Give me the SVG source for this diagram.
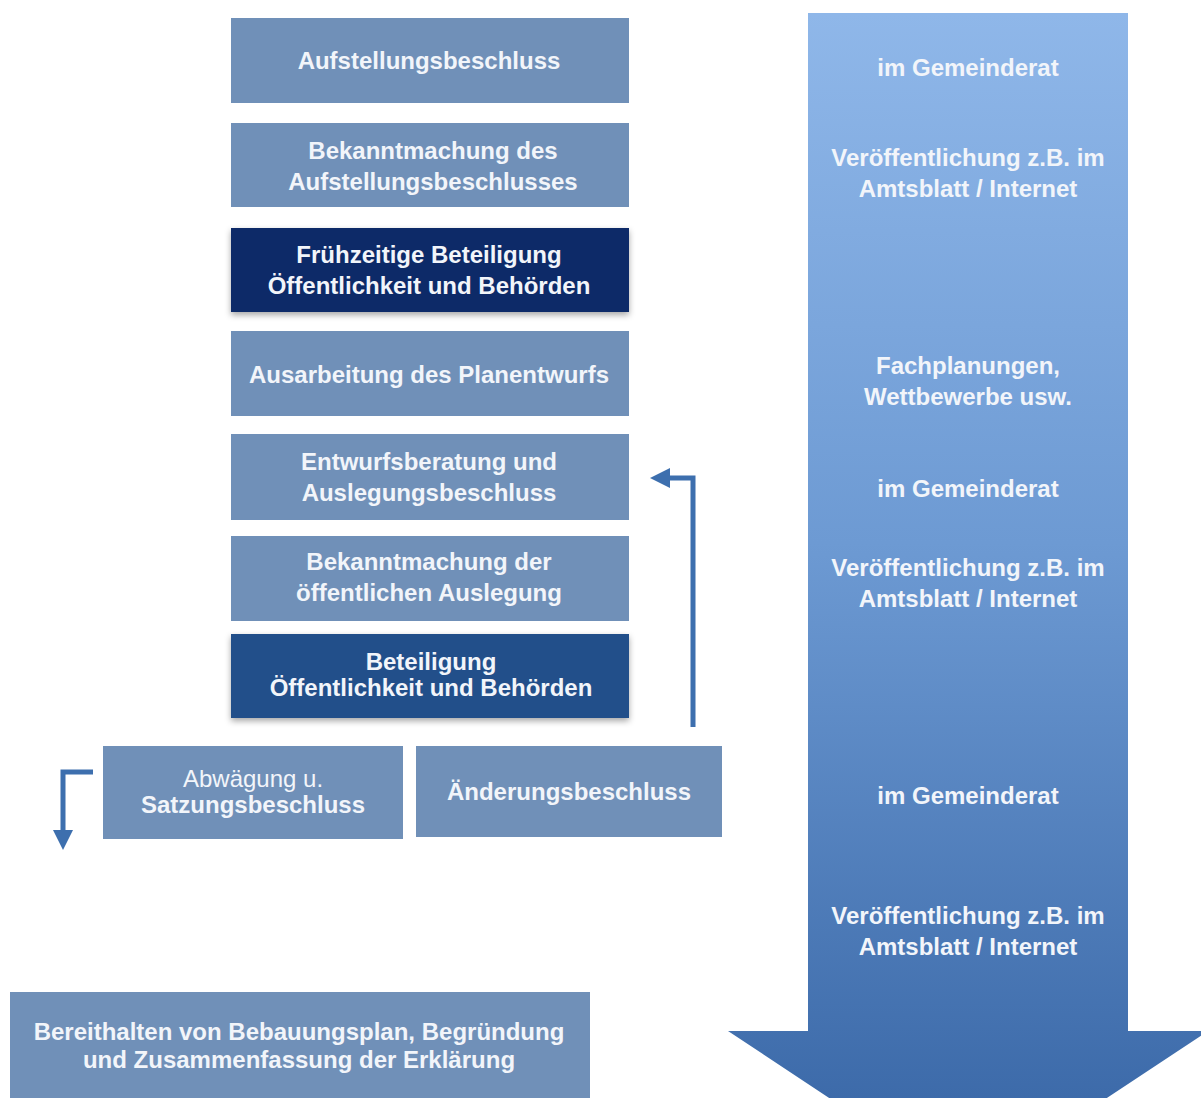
<svg xmlns="http://www.w3.org/2000/svg" width="1201" height="1098" viewBox="0 0 1201 1098">
<style>
.box{fill:#7090b8}
.t{font-family:"Liberation Sans",Arial,sans-serif;font-weight:bold;font-size:24px;fill:#f2f5fa;text-anchor:middle}
.r{font-weight:normal}
.con{fill:none;stroke:#3d6fae;stroke-width:5}
</style>
<defs>
<linearGradient id="ag" x1="0" y1="0" x2="0" y2="1">
<stop offset="0" stop-color="#8fb7e9"/>
<stop offset="0.45" stop-color="#6d9ad3"/>
<stop offset="1" stop-color="#3563a3"/>
</linearGradient>
<filter id="sh" x="-5%" y="-10%" width="110%" height="130%">
<feDropShadow dx="0" dy="3" stdDeviation="3" flood-color="#000" flood-opacity="0.35"/>
</filter>
<marker id="ah" markerWidth="4" markerHeight="4" refX="2" refY="2" orient="auto" markerUnits="strokeWidth" viewBox="0 0 4 4">
<path d="M0,0 L4,2 L0,4 Z" fill="#3d6fae"/>
</marker>
</defs>
<g id="timeline">
<polygon points="808,13 1128,13 1128,1031 1208,1031 968,1190 728,1031 808,1031" fill="url(#ag)"/>
<text class="t" x="968" y="76">im Gemeinderat</text>
<text class="t" x="968" y="166">Veröffentlichung z.B. im</text>
<text class="t" x="968" y="197">Amtsblatt / Internet</text>
<text class="t" x="968" y="374">Fachplanungen,</text>
<text class="t" x="968" y="405">Wettbewerbe usw.</text>
<text class="t" x="968" y="497">im Gemeinderat</text>
<text class="t" x="968" y="576">Veröffentlichung z.B. im</text>
<text class="t" x="968" y="607">Amtsblatt / Internet</text>
<text class="t" x="968" y="804">im Gemeinderat</text>
<text class="t" x="968" y="924">Veröffentlichung z.B. im</text>
<text class="t" x="968" y="955">Amtsblatt / Internet</text>
</g>
<g id="n1"><rect class="box" x="231" y="18" width="398" height="85"/><text class="t" x="429" y="69">Aufstellungsbeschluss</text></g>
<g id="n2"><rect class="box" x="231" y="123" width="398" height="84"/><text class="t" x="433" y="159">Bekanntmachung des</text><text class="t" x="433" y="190">Aufstellungsbeschlusses</text></g>
<g id="n3"><rect x="231" y="228" width="398" height="84" fill="#0f2a68" filter="url(#sh)"/><text class="t" x="429" y="263">Frühzeitige Beteiligung</text><text class="t" x="429" y="294">Öffentlichkeit und Behörden</text></g>
<g id="n4"><rect class="box" x="231" y="331" width="398" height="85"/><text class="t" x="429" y="383">Ausarbeitung des Planentwurfs</text></g>
<g id="n5"><rect class="box" x="231" y="434" width="398" height="86"/><text class="t" x="429" y="470">Entwurfsberatung und</text><text class="t" x="429" y="501">Auslegungsbeschluss</text></g>
<g id="n6"><rect class="box" x="231" y="536" width="398" height="85"/><text class="t" x="429" y="570">Bekanntmachung der</text><text class="t" x="429" y="601">öffentlichen Auslegung</text></g>
<g id="n7"><rect x="231" y="634" width="398" height="84" fill="#234f8a" filter="url(#sh)"/><text class="t" x="431" y="670">Beteiligung</text><text class="t" x="431" y="696">Öffentlichkeit und Behörden</text></g>
<g id="n8"><rect class="box" x="103" y="746" width="300" height="93"/><text class="t r" x="253" y="787">Abwägung  u.</text><text class="t" x="253" y="813">Satzungsbeschluss</text></g>
<g id="n9"><rect class="box" x="416" y="746" width="306" height="91"/><text class="t" x="569" y="800">Änderungsbeschluss</text></g>
<g id="n10"><rect class="box" x="10" y="992" width="580" height="106"/><text class="t" x="299" y="1040">Bereithalten von Bebauungsplan, Begründung</text><text class="t" x="299" y="1068">und Zusammenfassung der Erklärung</text></g>
<g id="connectors">
<path class="con" d="M693,727 L693,478 L660,478" marker-end="url(#ah)"/>
<path class="con" d="M93,772 L63,772 L63,840" marker-end="url(#ah)"/>
</g>
</svg>
